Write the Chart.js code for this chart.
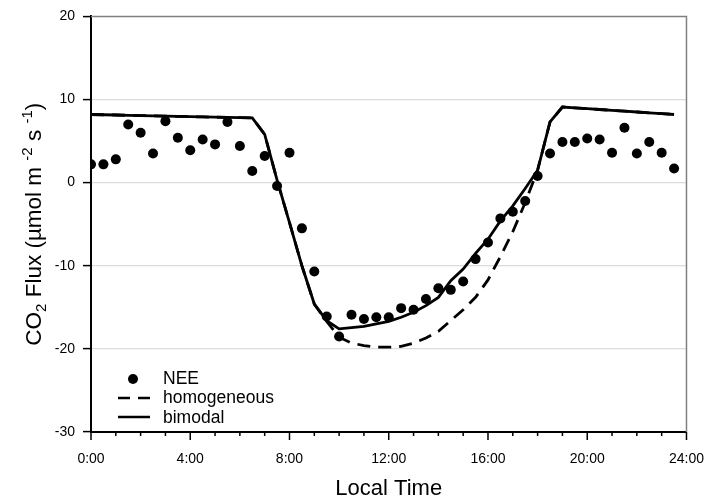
<!DOCTYPE html>
<html>
<head>
<meta charset="utf-8">
<script src="https://cdn.jsdelivr.net/npm/chart.js@4.4.0/dist/chart.umd.min.js"></script>
<style>
html, body { margin: 0; padding: 0; background: #fff; }
#wrap { width: 707px; height: 502px; }
</style>
</head>
<body>
<div id="wrap"><canvas id="flux"></canvas></div>
<script>
// half-hourly local time (h)
const times = [0, 0.5, 1, 1.5, 2, 2.5, 3, 3.5, 4, 4.5, 5, 5.5, 6, 6.5, 7, 7.5,
    8, 8.5, 9, 9.5, 10, 10.5, 11, 11.5, 12, 12.5, 13, 13.5, 14, 14.5, 15, 15.5,
    16, 16.5, 17, 17.5, 18, 18.5, 19, 19.5, 20, 20.5, 21, 21.5, 22, 22.5, 23, 23.5];

const nee = [2.2, 2.2, 2.8, 7.0, 6.0, 3.5, 7.4, 5.4, 3.9, 5.2, 4.6, 7.3, 4.4, 1.4, 3.2, -0.4,
    3.6, -5.5, -10.7, -16.1, -18.5, -15.9, -16.4, -16.2, -16.2, -15.1, -15.3, -14.0, -12.7, -12.9, -11.9, -9.2,
    -7.2, -4.3, -3.5, -2.2, 0.8, 3.5, 4.9, 4.9, 5.3, 5.2, 3.6, 6.6, 3.5, 4.9, 3.6, 1.7];

const homogeneous = [8.2, 8.17, 8.14, 8.1, 8.07, 8.04, 8.0, 7.97, 7.94, 7.9, 7.87, 7.84, 7.82, 7.8, 5.8, 0.3,
    -4.8, -10.0, -14.6, -16.7, -18.6, -19.3, -19.6, -19.8, -19.8, -19.7, -19.3, -18.7, -17.9, -16.6, -15.3, -13.8,
    -11.7, -8.9, -5.9, -2.4, 1.5, 7.3, 9.1, 9.0, 8.9, 8.8, 8.7, 8.6, 8.5, 8.4, 8.3, 8.2];

const bimodal = [8.2, 8.17, 8.14, 8.1, 8.07, 8.04, 8.0, 7.97, 7.94, 7.9, 7.87, 7.84, 7.82, 7.8, 5.8, 0.3,
    -4.8, -10.0, -14.6, -16.6, -17.6, -17.45, -17.3, -17.0, -16.7, -16.2, -15.6, -14.8, -13.8, -11.8, -10.4, -8.5,
    -6.8, -4.6, -2.8, -0.7, 1.5, 7.3, 9.1, 9.0, 8.9, 8.8, 8.7, 8.6, 8.5, 8.4, 8.3, 8.2];

const xTicks = [0, 4, 8, 12, 16, 20, 24];
const xMinorTicks = [1, 2, 3, 5, 6, 7, 9, 10, 11, 13, 14, 15, 17, 18, 19, 21, 22, 23];
const yTicks = [-30, -20, -10, 0, 10, 20];

const FONT = '"Liberation Sans", Arial, sans-serif';

function pts(ys) {
    return times.map((t, i) => ({ x: t, y: ys[i] }));
}

// frame, minor ticks, y title, legend
const extras = {
    id: 'extras',
    afterDraw(chart) {
        const ctx = chart.ctx;
        const a = chart.chartArea;
        const xs = chart.scales.x;
        ctx.save();

        // grey top / right border
        ctx.strokeStyle = '#808080';
        ctx.lineWidth = 1.5;
        ctx.beginPath();
        ctx.moveTo(a.left, a.top);
        ctx.lineTo(a.right, a.top);
        ctx.lineTo(a.right, a.bottom);
        ctx.stroke();

        // x ticks (major + minor), pointing down
        ctx.strokeStyle = '#000';
        ctx.lineWidth = 1.5;
        ctx.beginPath();
        xTicks.forEach(v => {
            const px = xs.getPixelForValue(v);
            ctx.moveTo(px, a.bottom);
            ctx.lineTo(px, a.bottom + 8);
        });
        xMinorTicks.forEach(v => {
            const px = xs.getPixelForValue(v);
            ctx.moveTo(px, a.bottom);
            ctx.lineTo(px, a.bottom + 4);
        });
        ctx.stroke();

        // y axis title with sub/superscripts
        const parts = [
            { t: 'CO', s: 0 }, { t: '2', s: -1 }, { t: ' Flux (µmol m ', s: 0 },
            { t: '-2', s: 1 }, { t: ' s ', s: 0 }, { t: '-1', s: 1 }, { t: ')', s: 0 }
        ];
        const big = '22.5px ' + FONT, small = '15px ' + FONT;
        let total = 0;
        parts.forEach(p => {
            ctx.font = p.s ? small : big;
            p.w = ctx.measureText(p.t).width;
            total += p.w;
        });
        ctx.translate(33, (a.top + a.bottom) / 2);
        ctx.rotate(-Math.PI / 2);
        ctx.fillStyle = '#000';
        ctx.textBaseline = 'alphabetic';
        let cx = -total / 2;
        parts.forEach(p => {
            ctx.font = p.s ? small : big;
            const dy = p.s === 1 ? -9 : (p.s === -1 ? 5 : 0);
            ctx.fillText(p.t, cx, 8 + dy);
            cx += p.w;
        });
        ctx.restore();

        // legend
        ctx.save();
        ctx.fillStyle = '#000';
        ctx.strokeStyle = '#000';
        ctx.font = '17.5px ' + FONT;
        ctx.textBaseline = 'middle';
        ctx.beginPath();
        ctx.arc(133, 379, 5, 0, Math.PI * 2);
        ctx.fill();
        ctx.lineWidth = 2.5;
        ctx.setLineDash([12, 8]);
        ctx.beginPath();
        ctx.moveTo(118, 398);
        ctx.lineTo(150, 398);
        ctx.stroke();
        ctx.setLineDash([]);
        ctx.beginPath();
        ctx.moveTo(118, 417);
        ctx.lineTo(150, 417);
        ctx.stroke();
        ctx.fillText('NEE', 163, 379);
        ctx.fillText('homogeneous', 163, 398);
        ctx.fillText('bimodal', 163, 418);
        ctx.restore();
    }
};

new Chart(document.getElementById('flux'), {
    type: 'scatter',
    data: {
        datasets: [{
            label: 'NEE',
            data: pts(nee),
            showLine: false,
            pointRadius: 5,
            pointBackgroundColor: '#000',
            pointBorderWidth: 0
        }, {
            label: 'bimodal',
            data: pts(bimodal),
            showLine: true,
            borderColor: '#000',
            borderWidth: 2.8,
            pointRadius: 0,
            tension: 0
        }, {
            label: 'homogeneous',
            data: pts(homogeneous),
            showLine: true,
            borderColor: '#000',
            borderWidth: 2.8,
            borderDash: [13, 8],
            pointRadius: 0,
            tension: 0
        }]
    },
    options: {
        responsive: true,
        maintainAspectRatio: false,
        animation: false,
        devicePixelRatio: 1,
        layout: {
            padding: { top: 14, right: 1, left: 0, bottom: 0 }
        },
        plugins: {
            legend: { display: false },
            tooltip: { enabled: false }
        },
        scales: {
            x: {
                type: 'linear',
                min: 0,
                max: 24,
                afterBuildTicks: s => { s.ticks = xTicks.map(v => ({ value: v })); },
                afterFit: s => { s.height = 70; },
                ticks: {
                    callback: v => v + ':00',
                    color: '#000',
                    font: { family: FONT, size: 14 },
                    padding: 3,
                    maxRotation: 0,
                    autoSkip: false
                },
                grid: {
                    drawOnChartArea: false,
                    drawTicks: true,
                    tickLength: 16,
                    tickColor: 'rgba(0,0,0,0)'
                },
                border: { color: '#000', width: 2 },
                title: {
                    display: true,
                    text: 'Local Time',
                    color: '#000',
                    font: { family: FONT, size: 22 },
                    padding: { top: 0, bottom: 0 }
                }
            },
            y: {
                min: -30,
                max: 20,
                afterBuildTicks: s => { s.ticks = yTicks.map(v => ({ value: v })); },
                afterFit: s => { s.width = 91; },
                ticks: {
                    color: '#000',
                    font: { family: FONT, size: 14 },
                    padding: 8
                },
                grid: {
                    color: c => (c.tick && (c.tick.value === 20 || c.tick.value === -30)) ? 'rgba(0,0,0,0)' : '#dcdcdc',
                    lineWidth: 1.2,
                    tickColor: '#000',
                    tickLength: 8,
                    tickWidth: 1.5
                },
                border: { color: '#000', width: 2 }
            }
        }
    },
    plugins: [extras]
});
</script>
</body>
</html>
